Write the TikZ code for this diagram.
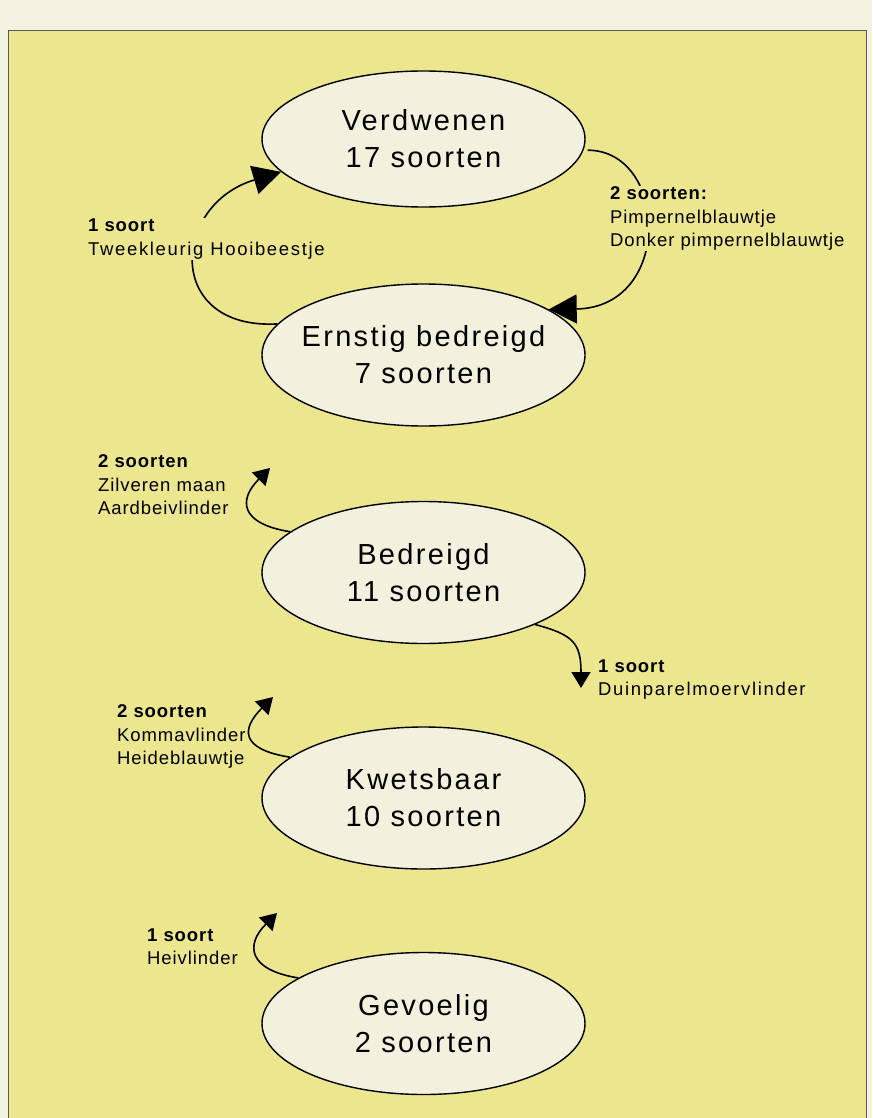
\documentclass[tikz,border=0pt]{standalone}
\usepackage{fontspec}
\setmainfont{Liberation Sans}
\newfontfamily\ovfont[LetterSpace=8]{Liberation Sans}
\newfontfamily\lbfont[LetterSpace=5]{Liberation Sans}
\newfontfamily\lbwfont[LetterSpace=9]{Liberation Sans}
\usetikzlibrary{shapes.geometric,arrows.meta}
\definecolor{fond}{RGB}{244,243,225}
\definecolor{jaune}{RGB}{236,231,143}
\definecolor{creme}{RGB}{243,241,222}

\begin{document}
\begin{tikzpicture}[x=1pt,y=1pt,
			ov/.style={ellipse,draw,line width=1.4pt,fill=creme,minimum width=323pt,minimum height=142pt,inner xsep=-60pt,inner ysep=0pt,align=center,font=\ovfont\fontsize{29}{37}\selectfont},
			lb/.style={anchor=north west,inner sep=1pt,fill=jaune,align=left,font=\lbfont\fontsize{18.5}{23.5}\selectfont},
			fl/.style={line width=1.6pt},
			grpointe/.style={-{Triangle[length=28pt,width=29pt]}},
			ptpointe/.style={-{Triangle[length=16pt,width=19pt]}}]
			          %fond
			          \useasboundingbox (0,0) rectangle (872,-1118);
			          \fill[fond] (0,0) rectangle (872,-1118);
			          \draw[fill=jaune,draw=black!65,line width=1pt] (8,-30.5) rectangle (866,-1130);
			          
			          %les ellipses
			          \node[ov,minimum height=136pt] (verdw) at (423.5,-139) {Verdwenen\\17 soorten};
			          \node[ov] (ernst) at (423.5,-355) {Ernstig bedreigd\\7 soorten};
			          \node[ov] (bedr) at (423.5,-572.5) {Bedreigd\\11 soorten};
			          \node[ov] (kwets) at (423.5,-798) {Kwetsbaar\\10 soorten};
			          \node[ov] (gevoel) at (423.5,-1023.5) {Gevoelig\\2 soorten};
			          
			          %boucle du haut
			          \draw[fl,grpointe] (ernst.168) .. controls +(-113,-6) and +(-110,-33) .. (verdw.193);
			          \draw[fl,grpointe,shorten <=4pt] (verdw.-4) .. controls +(85,0) and +(125,2) .. (ernst.20);
			          
			          %fleches libres
			          \coordinate (t_3) at (270,-468);
			          \coordinate (t_4) at (581,-688);
			          \coordinate (t_5) at (273,-697);
			          \coordinate (t_6) at (277,-913);
			          \draw[fl,ptpointe] (bedr.163) .. controls +(-50,8) and +(-32,-32) .. (t_3);
			          \draw[fl,ptpointe] (bedr.-25) .. controls +(38,-10) and +(0,45) .. (t_4);
			          \draw[fl,ptpointe] (kwets.163) .. controls +(-50,8) and +(-32,-32) .. (t_5);
			          \draw[fl,ptpointe] (gevoel.160) .. controls +(-50,8) and +(-32,-32) .. (t_6);
			          
			          %textes
			          \node[lb] (l_1) at (87,-218) {\textbf{1 soort}\\{\lbwfont Tweekleurig Hooibeestje}};
			          \node[lb] (l_2) at (609,-185.5) {\textbf{2 soorten:}\\Pimpernelblauwtje\\Donker pimpernelblauwtje};
			          \node[lb] (l_3) at (97,-453.5) {\textbf{2 soorten}\\Zilveren maan\\Aardbeivlinder};
			          \node[lb] (l_4) at (597,-658.5) {\textbf{1 soort}\\{\lbwfont Duinparelmoervlinder}};
			          \node[lb] (l_5) at (116,-703.5) {\textbf{2 soorten}\\Kommavlinder\\Heideblauwtje};
			          \node[lb] (l_6) at (146,-927.5) {\textbf{1 soort}\\Heivlinder};
				  \end{tikzpicture}
\end{document}
